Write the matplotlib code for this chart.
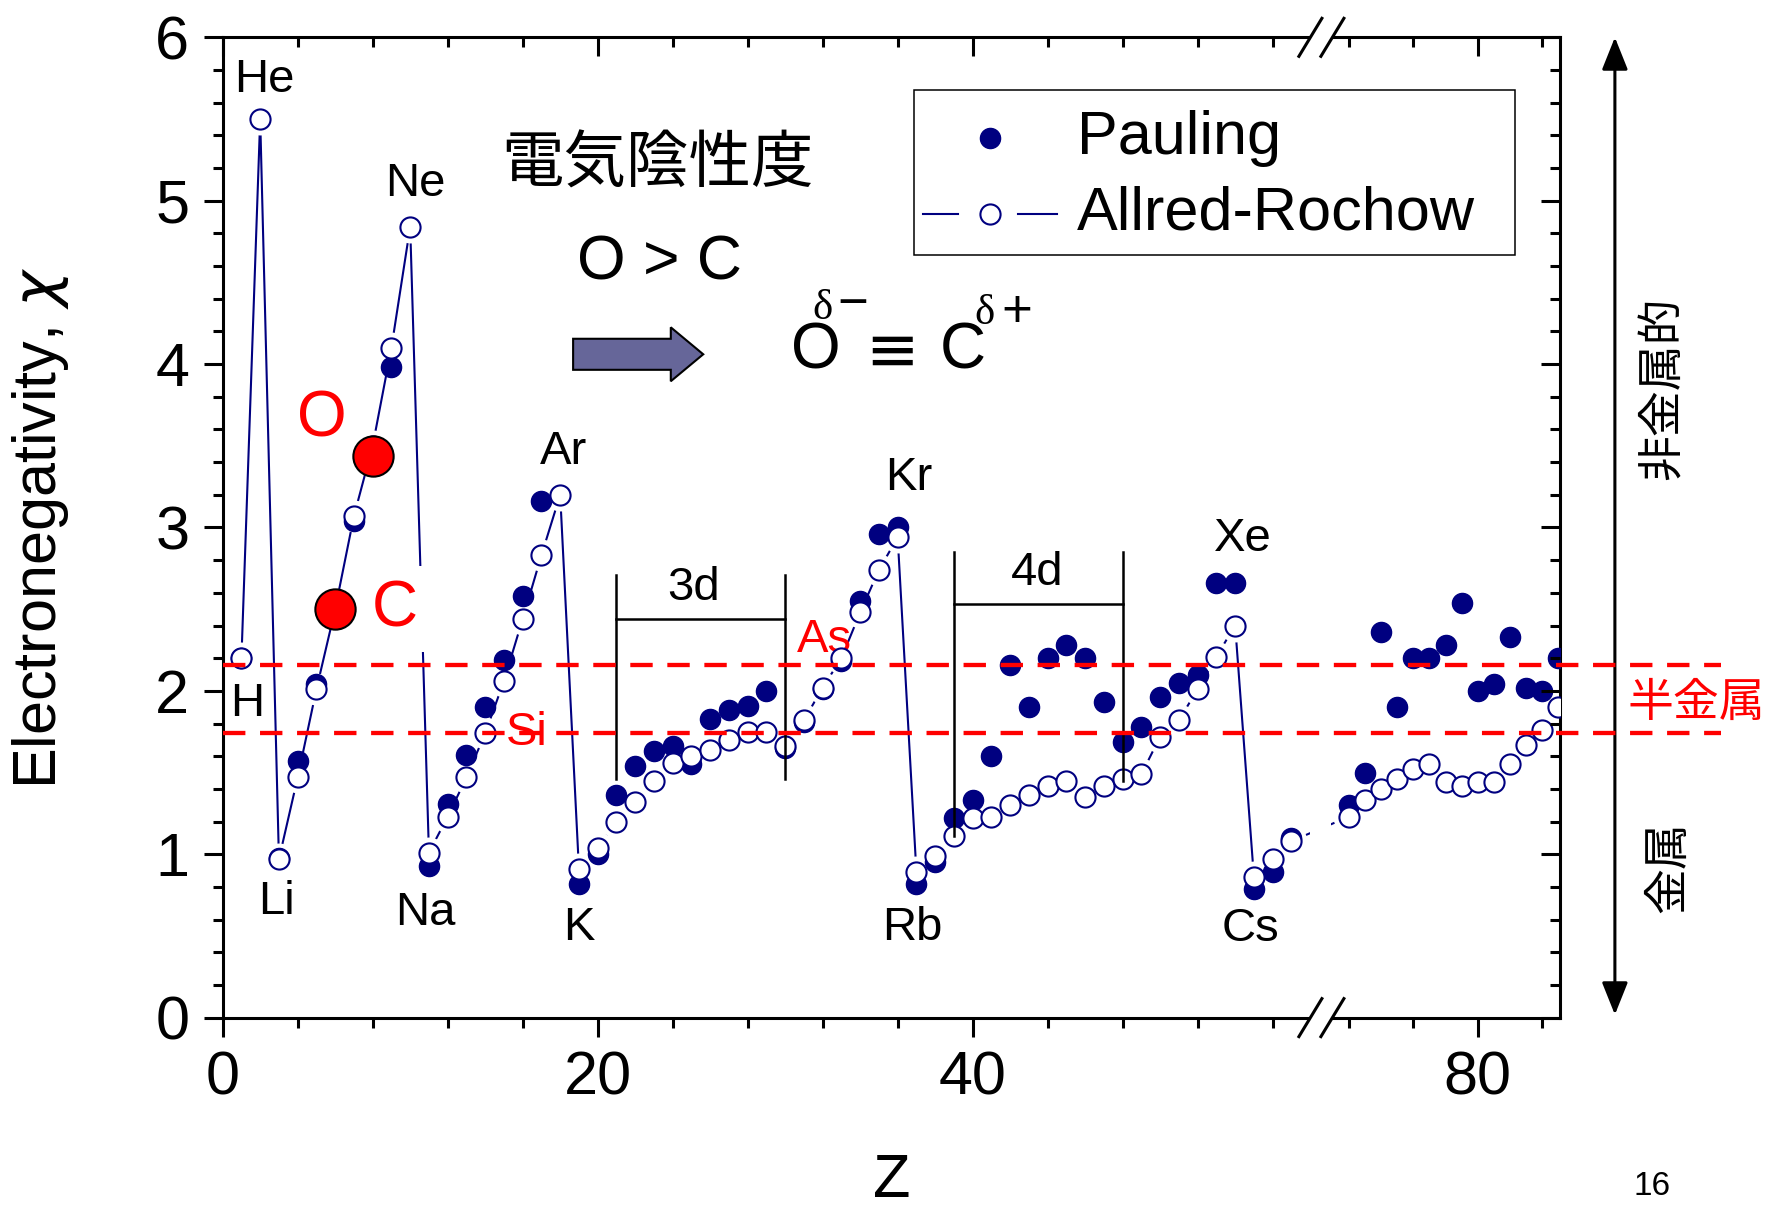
import numpy as np
import matplotlib
matplotlib.use('Agg')
import matplotlib.pyplot as plt
from matplotlib.patches import FancyArrow, Rectangle, Polygon
from matplotlib.ticker import FixedLocator, MultipleLocator
from matplotlib.transforms import blended_transform_factory

plt.rcParams['font.family'] = ['Liberation Sans', 'DejaVu Sans']
CJK = ['Noto Sans CJK JP', 'DejaVu Sans']
SERIF = ['Liberation Serif', 'DejaVu Serif']
NAVY = '#000080'

# --- data: atomic number and electronegativities (periods 1-6, lanthanides skipped) ---
z_values = list(range(1, 58)) + list(range(72, 86))

allred_rochow = [2.20, 5.50,
                 0.97, 1.47, 2.01, 2.50, 3.07, 3.50, 4.10, 4.84,
                 1.01, 1.23, 1.47, 1.74, 2.06, 2.44, 2.83, 3.20,
                 0.91, 1.04, 1.20, 1.32, 1.45, 1.56, 1.60, 1.64, 1.70, 1.75, 1.75,
                 1.66, 1.82, 2.02, 2.20, 2.48, 2.74, 2.94,
                 0.89, 0.99, 1.11, 1.22, 1.23, 1.30, 1.36, 1.42, 1.45, 1.35, 1.42,
                 1.46, 1.49, 1.72, 1.82, 2.01, 2.21, 2.40,
                 0.86, 0.97, 1.08,
                 1.23, 1.33, 1.40, 1.46, 1.52, 1.55, 1.44, 1.42, 1.44,
                 1.44, 1.55, 1.67, 1.76, 1.90]

pauling = [2.20, np.nan,
           0.98, 1.57, 2.04, 2.55, 3.04, 3.44, 3.98, np.nan,
           0.93, 1.31, 1.61, 1.90, 2.19, 2.58, 3.16, np.nan,
           0.82, 1.00, 1.36, 1.54, 1.63, 1.66, 1.55, 1.83, 1.88, 1.91, 2.00,
           1.65, 1.81, 2.01, 2.18, 2.55, 2.96, 3.00,
           0.82, 0.95, 1.22, 1.33, 1.60, 2.16, 1.90, 2.20, 2.28, 2.20, 1.93,
           1.69, 1.78, 1.96, 2.05, 2.10, 2.66, 2.66,
           0.79, 0.89, 1.10,
           1.30, 1.50, 2.36, 1.90, 2.20, 2.20, 2.28, 2.54, 2.00,
           2.04, 2.33, 2.02, 2.00, 2.20]

highlight_names = ['C', 'O']
highlight_z = [6, 8]
highlight_chi = [2.50, 3.44]

element_names = ['H', 'He', 'Li', 'Ne', 'Na', 'Ar', 'K', 'Kr', 'Rb', 'Xe', 'Cs']
element_label_z = [1.3, 2.2, 2.85, 10.3, 10.8, 18.2, 19.0, 36.6, 36.8, 54.4, 54.8]
element_label_chi = [1.92, 5.74, 0.71, 5.10, 0.64, 3.46, 0.55, 3.30, 0.55, 2.93, 0.54]

metalloid_chi = [2.16, 1.74]

# --- broken x axis: Z 58.6 .. 70.3 is squeezed out ---
BREAK_LO, BREAK_HI, SEG2, EPS = 58.6, 70.3, 0.86, 1e-3


def fwd(z):
    z = np.asarray(z, dtype=float)
    mid = BREAK_LO + (z - BREAK_LO) * EPS / (BREAK_HI - BREAK_LO)
    hi = BREAK_LO + EPS + (z - BREAK_HI) * SEG2
    return np.where(z <= BREAK_LO, z, np.where(z >= BREAK_HI, hi, mid))


def inv(u):
    u = np.asarray(u, dtype=float)
    mid = BREAK_LO + (u - BREAK_LO) * (BREAK_HI - BREAK_LO) / EPS
    hi = BREAK_HI + (u - BREAK_LO - EPS) / SEG2
    return np.where(u <= BREAK_LO, u, np.where(u >= BREAK_LO + EPS, hi, mid))


fig = plt.figure(figsize=(17.73, 12.08), dpi=100)
ax = fig.add_axes([0.1256, 0.1576, 0.7543, 0.8115])
ax.set_xscale('function', functions=(fwd, inv))
ax.set_xlim(0, 85.1)
ax.set_ylim(0, 6)

x_major = [0, 20, 40, 80]
x_minor = [4, 8, 12, 16, 24, 28, 32, 36, 44, 48, 52, 56, 72, 76, 84]

# Allred-Rochow line with gaps around symbols (white halo under the markers)
ax.plot(z_values, allred_rochow, color=NAVY, lw=1.5, zorder=2)
ax.axvspan(58.0, 70.9, color='white', lw=0, zorder=2.1)
ax.plot(z_values, allred_rochow, ls='none', marker='o', ms=23,
        mfc='white', mec='none', zorder=2.2)
ax.plot(z_values, pauling, ls='none', marker='o', ms=14.5,
        mfc=NAVY, mec=NAVY, zorder=3)
ax.plot(z_values, allred_rochow, ls='none', marker='o', ms=14.5,
        mfc='white', mec=NAVY, mew=1.5, zorder=4)
ax.plot(highlight_z, highlight_chi, ls='none', marker='o', ms=29,
        mfc='red', mec='black', mew=1.5, zorder=5)

# red labels for O and C
ax.text(5.27, 3.66, 'O', color='red', fontsize=46, ha='center', va='center', zorder=3)
ax.text(9.19, 2.50, 'C', color='red', fontsize=46, ha='center', va='center', zorder=3,
        bbox=dict(facecolor='white', edgecolor='none', pad=9))

for name, zx, chi in zip(element_names, element_label_z, element_label_chi):
    ax.text(zx, chi, name, fontsize=34, ha='center', va='center', zorder=3)

# 3d / 4d brackets
for xl, xr, ybl, ybr, ytop, yh in [(21, 30, 1.46, 1.46, 2.71, 2.44),
                                   (39, 48, 1.11, 1.45, 2.85, 2.53)]:
    ax.plot([xl, xl], [ybl, ytop], color='black', lw=1.8, zorder=6)
    ax.plot([xr, xr], [ybr, ytop], color='black', lw=1.8, zorder=6)
    ax.plot([xl, xr], [yh, yh], color='black', lw=1.8, zorder=6)
ax.text(25.1, 2.63, '3d', fontsize=34, ha='center', va='center')
ax.text(43.45, 2.72, '4d', fontsize=34, ha='center', va='center')

# metalloid band
band = blended_transform_factory(ax.transAxes, ax.transData)
for chi in metalloid_chi:
    ax.plot([0, 1.1204], [chi, chi], transform=band, clip_on=False, color='red',
            lw=3.1, ls=(0, (5.2, 3.4)), zorder=7)
ax.text(32.1, 2.31, 'As', color='red', fontsize=34, ha='center', va='center', zorder=3.5)
ax.text(16.2, 1.74, 'Si', color='red', fontsize=34, ha='center', va='center', zorder=3.5)

# headline texts
ax.text(23.2, 5.22, '電気陰性度', fontsize=45, family=CJK, ha='center', va='center')
ax.text(23.3, 4.62, 'O > C', fontsize=45, ha='center', va='center')
ax.add_patch(FancyArrow(18.69, 4.06, 6.94, 0, width=0.19, head_width=0.33,
                        head_length=1.73, length_includes_head=True,
                        fc='#666699', ec='black', lw=1.5, zorder=5))
ax.text(31.63, 4.08, 'O', fontsize=46, ha='center', va='center')
ax.text(35.71, 4.07, '≡', fontsize=46, ha='center', va='center',
        family=['DejaVu Sans'])
ax.text(39.5, 4.08, 'C', fontsize=46, ha='center', va='center')
ax.text(31.99, 4.34, 'δ', fontsize=31, ha='center', va='center', family=SERIF)
ax.text(33.58, 4.36, '−', fontsize=38, ha='center', va='center')
ax.text(40.62, 4.31, 'δ', fontsize=31, ha='center', va='center', family=SERIF)
ax.text(42.33, 4.31, '+', fontsize=38, ha='center', va='center')

# legend drawn by hand
ax.add_patch(Rectangle((0.517, 0.778), 0.449, 0.168, transform=ax.transAxes,
                       facecolor='white', edgecolor='black', lw=1.1, zorder=9))
ax.plot([0.574], [0.897], transform=ax.transAxes, marker='o', ms=14.5,
        mfc=NAVY, mec=NAVY, zorder=10)
ax.plot([0.524, 0.550], [0.820, 0.820], transform=ax.transAxes, color=NAVY, lw=1.5, zorder=10)
ax.plot([0.595, 0.624], [0.820, 0.820], transform=ax.transAxes, color=NAVY, lw=1.5, zorder=10)
ax.plot([0.574], [0.820], transform=ax.transAxes, marker='o', ms=14.5,
        mfc='white', mec=NAVY, mew=1.5, zorder=10)
ax.text(0.639, 0.897, 'Pauling', transform=ax.transAxes, fontsize=44, va='center', zorder=10)
ax.text(0.639, 0.820, 'Allred-Rochow', transform=ax.transAxes, fontsize=44, va='center', zorder=10)

# axes styling
for s in ax.spines.values():
    s.set_linewidth(2.2)
ax.xaxis.set_major_locator(FixedLocator(x_major))
ax.xaxis.set_minor_locator(FixedLocator(x_minor))
ax.yaxis.set_major_locator(MultipleLocator(1))
ax.yaxis.set_minor_locator(MultipleLocator(0.2))
ax.tick_params(which='both', direction='out', width=2.2, top=False, right=False)
ax.tick_params(which='major', length=14, labelsize=44, pad=10)
ax.tick_params(which='minor', length=7)

ax.set_xlabel('Z', fontsize=44)
ax.xaxis.label.set_va('center')
ax.xaxis.set_label_coords(0.5, -0.167)
ax.set_ylabel('Electronegativity, $\\chi$', fontsize=44)
ax.yaxis.label.set_va('center')
ax.yaxis.set_label_coords(-0.1366, 0.5)

# inward ticks on top and right
ax_top = ax.twiny()
ax_top.set_xscale('function', functions=(fwd, inv))
ax_top.set_xlim(ax.get_xlim())
ax_top.xaxis.set_major_locator(FixedLocator(x_major))
ax_top.xaxis.set_minor_locator(FixedLocator(x_minor))
ax_top.tick_params(axis='x', which='both', direction='in', width=2.2,
                   top=True, bottom=False, labeltop=False, labelbottom=False)
ax_top.tick_params(axis='x', which='major', length=14)
ax_top.tick_params(axis='x', which='minor', length=7)
ax_right = ax.twinx()
ax_right.set_ylim(0, 6)
ax_right.yaxis.set_major_locator(MultipleLocator(1))
ax_right.yaxis.set_minor_locator(MultipleLocator(0.2))
ax_right.tick_params(axis='y', which='both', direction='in', width=2.2,
                     right=True, left=False, labelright=False, labelleft=False)
ax_right.tick_params(axis='y', which='major', length=14)
ax_right.tick_params(axis='y', which='minor', length=7)
for extra in (ax_top, ax_right):
    for s in extra.spines.values():
        s.set_visible(False)

# break marks on top and bottom spines
bx = ax.transAxes.inverted().transform(ax.transData.transform((BREAK_LO, 0)))[0]
W, H = 1337.3, 980.3
for yb in (0.0, 1.0):
    gap = [(bx + (-11 - 4.8) / W, yb - 8 / H), (bx + (11 - 4.8) / W, yb - 8 / H),
           (bx + (11 + 4.8) / W, yb + 8 / H), (bx + (-11 + 4.8) / W, yb + 8 / H)]
    ax.add_patch(Polygon(gap, closed=True, transform=ax.transAxes, facecolor='white',
                         edgecolor='none', clip_on=False, zorder=10))
    for off in (-11, 11):
        ax.plot([bx + (off - 11.5) / W, bx + (off + 11.5) / W], [yb - 19 / H, yb + 19 / H],
                transform=ax.transAxes, color='black', lw=2.2, clip_on=False, zorder=11)

# metallic / non-metallic scale on the right
ax.annotate('', xy=(1.041, 1.0), xytext=(1.041, 0.003), xycoords='axes fraction',
            arrowprops=dict(arrowstyle='<|-|>,head_length=1.0,head_width=0.4',
                            color='black', lw=2.2, mutation_scale=20,
                            shrinkA=0, shrinkB=0),
            annotation_clip=False)
fig.text(0.9374, 0.679, '非金属的', rotation=90, fontsize=33, family=CJK,
         ha='center', va='center')
fig.text(0.9408, 0.282, '金属', rotation=90, fontsize=33, family=CJK,
         ha='center', va='center')
fig.text(0.957, 0.418, '半金属', color='red', fontsize=33, family=CJK,
         ha='center', va='center')
fig.text(0.932, 0.0174, '16', fontsize=24, ha='center', va='center')

fig.savefig('out.png', dpi=100, facecolor='white')
